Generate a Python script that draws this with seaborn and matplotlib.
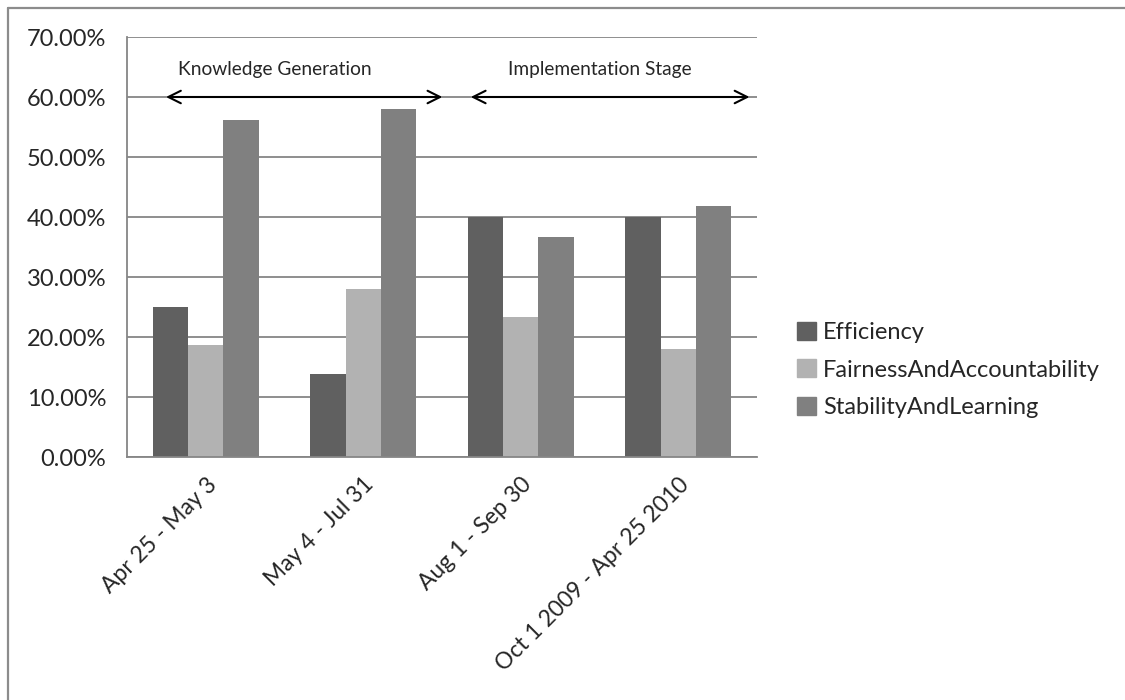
import matplotlib
matplotlib.use("Agg")
import matplotlib.pyplot as plt
import matplotlib.patches as mpatches
from matplotlib.lines import Line2D
import seaborn as sb
import pandas as pd
import numpy as np
from matplotlib.ticker import FuncFormatter, FixedLocator

# %% data
periods = ["Apr 25 - May 3", "May 4 - Jul 31", "Aug 1 - Sep 30", "Oct 1 2009 - Apr 25 2010"]
series = ["Efficiency", "FairnessAndAccountability", "StabilityAndLearning"]
efficiency = [25.0, 13.9, 40.0, 40.0]
fairness = [18.7, 28.0, 23.3, 18.0]
stability = [56.2, 58.0, 36.6, 41.9]
colors = ["#606060", "#b2b2b2", "#808080"]

df = pd.DataFrame({
    "period": periods * 3,
    "series": [s for s in series for _ in periods],
    "value": efficiency + fairness + stability,
})

# %% plot
sb.set_style("white")
plt.rcParams["font.family"] = ["Lato", "DejaVu Sans"]

W, H = 1125, 700
fig = plt.figure(figsize=(W / 100, H / 100), dpi=100)
ax = fig.add_axes([127 / W, 1 - 457 / H, 630 / W, 420 / H])

# chart area border (only left and top edges visible in the crop)
fig.add_artist(Line2D([7.5 / W, 7.5 / W], [0, 1 - 7.5 / H], color="#8c8c8c", lw=1.6))
fig.add_artist(Line2D([7.5 / W, 1], [1 - 7.5 / H, 1 - 7.5 / H], color="#8c8c8c", lw=1.6))

sb.barplot(data=df, x="period", y="value", hue="series", palette=colors,
           width=0.67, saturation=1, ax=ax, legend=False, linewidth=0)

ax.set_ylim(0, 70)
ax.set_xlim(-0.5, 3.5)
ax.set_yticks(np.arange(0, 71, 10))
ax.yaxis.set_major_formatter(FuncFormatter(lambda v, p: f"{v:.2f}%"))
ax.yaxis.grid(True, color="#868686", linewidth=1.3)
ax.set_axisbelow(True)
ax.set_xlabel("")
ax.set_ylabel("")

for side in ["top", "right"]:
    ax.spines[side].set_visible(False)
for side in ["left", "bottom"]:
    ax.spines[side].set_color("#868686")
    ax.spines[side].set_linewidth(1.3)

ax.tick_params(axis="y", length=6, width=1.3, color="#868686", labelsize=17, pad=9)
ax.tick_params(axis="x", which="major", length=0, labelsize=16.5, pad=12)
ax.xaxis.set_minor_locator(FixedLocator(np.arange(-0.5, 3.6, 1)))
ax.tick_params(axis="x", which="minor", length=6, width=1.3, color="#868686")
plt.setp(ax.get_xticklabels(), rotation=45, ha="right", rotation_mode="anchor")

# stage arrows
ax.annotate("", xy=(-0.27, 60), xytext=(1.52, 60),
            arrowprops=dict(arrowstyle="<->,head_length=0.9,head_width=0.45", color="black", lw=1.5))
ax.annotate("", xy=(1.665, 60), xytext=(3.47, 60),
            arrowprops=dict(arrowstyle="<->,head_length=0.9,head_width=0.45", color="black", lw=1.5))
ax.text(0.44, 64.5, "Knowledge Generation", ha="center", va="center", fontsize=13.8)
ax.text(2.5, 64.5, "Implementation Stage", ha="center", va="center", fontsize=13.8)

handles = [mpatches.Patch(color=c, label=s) for c, s in zip(colors, series)]
fig.legend(handles=handles, loc="center left", bbox_to_anchor=(776 / W, 1 - 370 / H),
           frameon=False, fontsize=17, handlelength=0.8, handleheight=0.8,
           handletextpad=0.3, labelspacing=0.7)

fig.savefig("out.png", dpi=100)
